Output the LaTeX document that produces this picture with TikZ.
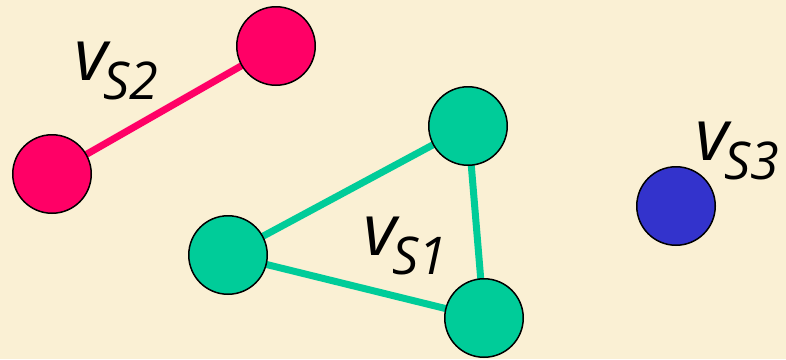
\documentclass[tikz,border=0pt]{standalone}
\usepackage{fontspec}
\setmainfont{Open Sans}
\definecolor{bgc}{HTML}{FAF0D4}
\definecolor{redv}{HTML}{FF0066}
\definecolor{greenv}{HTML}{00CC99}
\definecolor{bluev}{HTML}{3333CC}
\newcommand\vlbl[1]{{\fontsize{72}{72}\selectfont\itshape v}\kern-4pt\raisebox{-19pt}{\fontsize{52}{52}\selectfont\itshape #1}}
\pgfdeclarelayer{bglayer}
\pgfdeclarelayer{edgelayer}
\pgfsetlayers{bglayer,edgelayer,main}
\begin{document}
\begin{tikzpicture}[x=1pt,y=-1pt,
  vertex/.style={circle,draw=black,line width=1.5pt,minimum size=78.5pt,inner sep=0pt},
  edgeline/.style={line width=7pt},
  lbl/.style={anchor=base west,inner sep=0pt}]
\begin{pgfonlayer}{bglayer}
\fill[bgc] (0,0) rectangle (786,359);
\end{pgfonlayer}
\useasboundingbox (0,0) rectangle (786,359);
\node[vertex,fill=redv] (r1) at (52,174) {};
\node[vertex,fill=redv] (r2) at (276,46) {};
\node[vertex,fill=greenv] (g1) at (468,126) {};
\node[vertex,fill=greenv] (g2) at (228,255) {};
\node[vertex,fill=greenv] (g3) at (484,318) {};
\node[vertex,fill=bluev] (b1) at (676,206) {};
\begin{pgfonlayer}{edgelayer}
\draw[edgeline,redv] (r1.center) -- (r2.center);
\draw[edgeline,greenv] (g1.center) -- (g2.center) -- (g3.center) -- cycle;
\end{pgfonlayer}
\node[lbl] (l2) at (74,80) {\vlbl{S2}};
\node[lbl] (l1) at (363,255) {\vlbl{S1}};
\node[lbl] (l3) at (695,160) {\vlbl{S3}};
\end{tikzpicture}
\end{document}
